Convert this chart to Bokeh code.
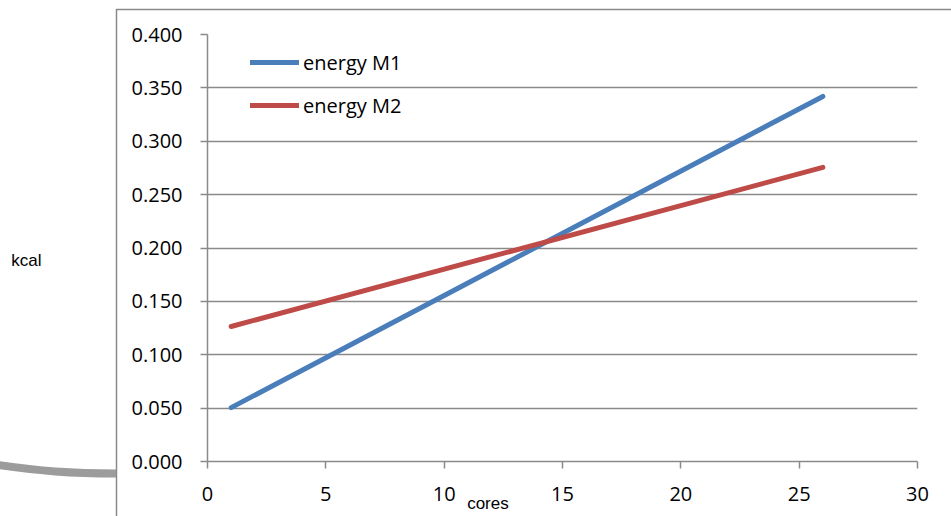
from bokeh.plotting import figure
from bokeh.models import (Range1d, FixedTicker, Legend, LegendItem, LinearAxis,
                          NumeralTickFormatter)
from bokeh.embed import file_html
from bokeh.resources import INLINE

cores = [1, 26]
energy_m1 = [0.0505, 0.342]
energy_m2 = [0.1265, 0.2755]
series_names = ["energy M1", "energy M2"]
x_ticks = [0, 5, 10, 15, 20, 25, 30]
y_ticks = [0.0, 0.05, 0.1, 0.15, 0.2, 0.25, 0.3, 0.35, 0.4]
x_title = "cores"
y_title = "kcal"

GRAY = "#8a8a8a"
FONT = "Open Sans"
LABEL_FONT = "Liberation Sans"

# page decoration: the chart-area border (top/left edges) and a grey swoosh
deco_svg = (
    "<svg xmlns='http://www.w3.org/2000/svg' width='951' height='516'>"
    "<path d='M116.5 9 V516 M116 9.5 H951' stroke='%238a8a8a' stroke-width='1.5' fill='none'/>"
    "<path d='M-2 465 C40 471 70 473.5 116 473.5' stroke='%239c9c9c' stroke-width='8' fill='none'/>"
    "</svg>"
)

p = figure(width=951, height=516, output_backend="svg", toolbar_location=None,
           x_range=Range1d(0, 30), y_range=Range1d(0, 0.4),
           min_border_left=207, min_border_right=34, min_border_top=34, min_border_bottom=55)
p.outline_line_color = None
p.background_fill_alpha = 0
p.border_fill_alpha = 0
p.styles = {"background-color": "white",
            "background-image": 'url("data:image/svg+xml;utf8,' + deco_svg + '")',
            "background-repeat": "no-repeat"}

p.xgrid.grid_line_color = None
p.ygrid.grid_line_color = GRAY
p.ygrid.grid_line_width = 1.5
p.ygrid.ticker = FixedTicker(ticks=y_ticks)

for ax in (p.xaxis[0], p.yaxis[0]):
    ax.axis_line_color = GRAY
    ax.axis_line_width = 1.5
    ax.major_tick_line_color = GRAY
    ax.major_tick_line_width = 1.5
    ax.major_tick_in = 0
    ax.major_tick_out = 7
    ax.minor_tick_line_color = None
    ax.major_label_text_font = FONT
    ax.major_label_text_font_size = "20px"
    ax.major_label_text_color = "black"

p.xaxis.ticker = FixedTicker(ticks=x_ticks)
p.yaxis.ticker = FixedTicker(ticks=y_ticks)
p.yaxis.formatter = NumeralTickFormatter(format="0.000")
p.xaxis.major_label_standoff = 18
p.yaxis.major_label_standoff = 18


def title_axis(pos, text, standoff):
    """A bare axis whose single tick label is the axis title, placed at `pos`."""
    return LinearAxis(ticker=FixedTicker(ticks=[pos]), major_label_overrides={pos: text},
                      axis_line_color=None, major_tick_line_color=None,
                      minor_tick_line_color=None, major_tick_out=0, major_tick_in=0,
                      minor_tick_out=0, minor_tick_in=0,
                      major_label_standoff=standoff,
                      major_label_text_font=LABEL_FONT,
                      major_label_text_font_size="17px",
                      major_label_text_color="black")


p.add_layout(title_axis(11.85, x_title, -10), "below")
p.add_layout(title_axis(0.1885, y_title, 87), "left")

r1 = p.line(cores, energy_m1, line_color="#4a7ebb", line_width=5, line_cap="round")
r2 = p.line(cores, energy_m2, line_color="#be4b48", line_width=5, line_cap="round")

legend = Legend(items=[LegendItem(label=series_names[0], renderers=[r1]),
                       LegendItem(label=series_names[1], renderers=[r2])],
                location=(43, 341), orientation="vertical",
                glyph_width=49, glyph_height=30, label_height=30, spacing=13,
                label_standoff=4, padding=0, margin=0,
                border_line_color=None, background_fill_alpha=0,
                label_text_font=FONT, label_text_font_size="20px",
                label_text_color="black")
p.add_layout(legend)

open("out.html", "w").write(file_html(p, INLINE))
